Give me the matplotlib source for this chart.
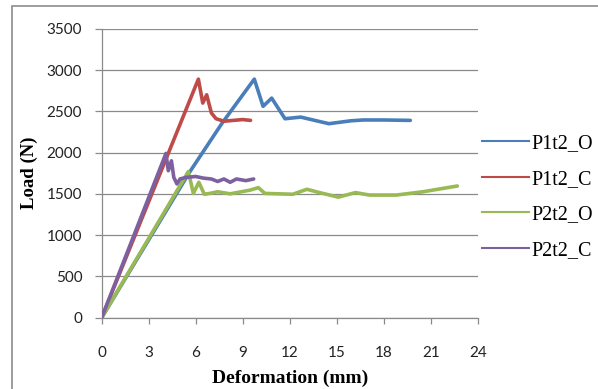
import matplotlib
matplotlib.use("Agg")
import matplotlib.pyplot as plt
from matplotlib.lines import Line2D
from matplotlib.patches import Rectangle

# Load-deformation curves (deformation in mm, load in N)
p1t2_o_x = [0, 5.6, 7.66, 8.62, 9.74, 10.3, 10.85, 11.7, 12.7, 14.5, 15.9, 16.7, 18.0, 19.7]
p1t2_o_y = [0, 1760, 2350, 2600, 2890, 2560, 2660, 2410, 2430, 2350, 2385, 2395, 2395, 2390]

p1t2_c_x = [0, 6.17, 6.45, 6.7, 7.0, 7.3, 7.8, 8.4, 9.0, 9.5]
p1t2_c_y = [0, 2890, 2600, 2700, 2480, 2410, 2380, 2390, 2400, 2390]

p2t2_o_x = [0, 5.53, 5.85, 6.2, 6.55, 6.9, 7.4, 8.2, 9.47, 10.0, 10.42, 12.2, 13.1, 13.9,
            15.1, 16.2, 17.1, 18.8, 20.5, 22.7]
p2t2_o_y = [0, 1770, 1505, 1640, 1495, 1505, 1525, 1500, 1545, 1575, 1505, 1495, 1555, 1515,
            1460, 1515, 1485, 1485, 1525, 1595]

p2t2_c_x = [0, 4.1, 4.25, 4.45, 4.6, 4.8, 5.0, 5.4, 6.0, 6.5, 7.0, 7.4, 7.8, 8.2, 8.6, 9.2, 9.7]
p2t2_c_y = [0, 1990, 1780, 1900, 1700, 1620, 1680, 1700, 1710, 1690, 1680, 1650, 1680, 1640,
            1680, 1660, 1680]

series_names = ["P1t2_O", "P1t2_C", "P2t2_O", "P2t2_C"]
series_colors = ["#4A7EBB", "#BE4B48", "#98B954", "#7D60A0"]

x_ticks = [0, 3, 6, 9, 12, 15, 18, 21, 24]
y_ticks = [0, 500, 1000, 1500, 2000, 2500, 3000, 3500]

fig = plt.figure(figsize=(5.98, 3.89), dpi=100)
ax = fig.add_axes([0.1701, 0.1835, 0.6287, 0.7425])

grid_gray = "#8A8A8A"
data = [(p1t2_o_x, p1t2_o_y), (p1t2_c_x, p1t2_c_y), (p2t2_o_x, p2t2_o_y), (p2t2_c_x, p2t2_c_y)]
for (xs, ys), name, col in zip(data, series_names, series_colors):
    ax.plot(xs, ys, color=col, lw=2.6, solid_joinstyle="round", solid_capstyle="round",
            label=name, zorder=3)

ax.set_xlim(0, 24)
ax.set_ylim(0, 3500)
ax.set_xticks(x_ticks)
ax.set_yticks(y_ticks)
ax.yaxis.grid(True, color=grid_gray, lw=0.9)
ax.set_axisbelow(True)

for side in ("top", "right"):
    ax.spines[side].set_visible(False)
for side in ("left", "bottom"):
    ax.spines[side].set_color(grid_gray)
    ax.spines[side].set_linewidth(0.9)

tick_font = "Lato"
ax.tick_params(axis="y", direction="out", length=5, width=0.9, color=grid_gray, pad=9,
               labelsize=11, labelcolor="#222222")
ax.tick_params(axis="x", direction="out", length=4.5, width=0.9, color=grid_gray, pad=16,
               labelsize=11, labelcolor="#222222")
for lab in ax.get_xticklabels() + ax.get_yticklabels():
    lab.set_family(tick_font)

ax.set_xlabel("Deformation (mm)", family="Liberation Serif", fontweight="bold", fontsize=14,
              labelpad=7)
ax.set_ylabel("Load (N)", family="Liberation Serif", fontweight="bold", fontsize=13.5,
              labelpad=6)

handles = [Line2D([], [], color=c, lw=1.5) for c in series_colors]
ax.legend(handles, series_names, loc="center left", bbox_to_anchor=(1.0106, 0.4176),
          frameon=False, borderaxespad=0, borderpad=0, handlelength=2.35, handletextpad=0.12,
          labelspacing=0.82, prop={"family": "Liberation Serif", "size": 14.5})

# outer chart frame
fig.patches.append(Rectangle((12 / 598, -0.05), 1.2, 1.05 - 6 / 389, transform=fig.transFigure,
                             fill=False, edgecolor="#8C8C8C", lw=1.2, clip_on=False))

fig.savefig("out.png", dpi=100)
